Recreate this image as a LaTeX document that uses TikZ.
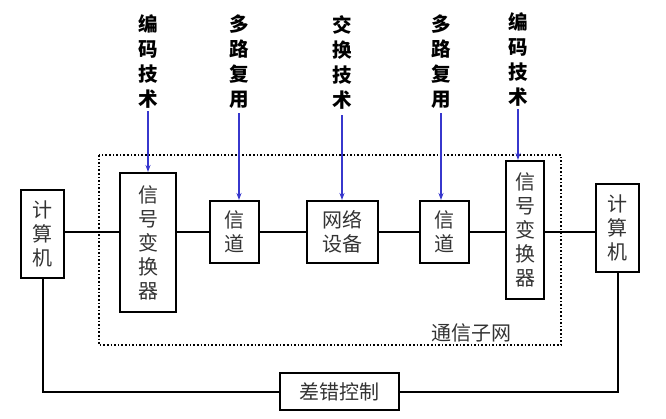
\documentclass[tikz,border=0pt]{standalone}
\usepackage{fontspec}
\setmainfont{Noto Sans CJK SC}
\usetikzlibrary{arrows.meta}
\definecolor{arrowblue}{RGB}{55,55,205}
\tikzset{
  box/.style={draw=black, line width=2pt, inner sep=0pt, align=center,
    font=\fontsize{20}{24}\selectfont, text=black!80},
  toplabel/.style={align=center, inner sep=0pt, font=\fontsize{19.5}{25}\selectfont\bfseries},
  conn/.style={line width=2pt},
  tech/.style={draw=arrowblue, line width=1.5pt, -{Stealth[length=7pt,width=5pt]}},
}
\begin{document}
\begin{tikzpicture}[x=1pt,y=-1pt]
\useasboundingbox (0,0) rectangle (666,419);
\draw[line width=1.6pt, dotted] (99,155) rectangle (561,345);
\node[box, minimum width=43pt, minimum height=88pt] (lc) at (42.5,234) {计\\算\\机};
\node[box, minimum width=56pt, minimum height=139pt] (lconv) at (148,242.5) {信\\号\\变\\换\\器};
\node[box, minimum width=49pt, minimum height=62pt] (ch1) at (234.5,232) {信\\道};
\node[box, minimum width=71pt, minimum height=62pt] (net) at (342.5,232) {网络\\设备};
\node[box, minimum width=49pt, minimum height=62pt] (ch2) at (444.5,232) {信\\道};
\node[box, minimum width=38pt, minimum height=138pt] (rconv) at (525,230) {信\\号\\变\\换\\器};
\node[box, minimum width=43pt, minimum height=88pt] (rc) at (617.5,228) {计\\算\\机};
\node[box, minimum width=119pt, minimum height=37pt] (err) at (339.5,391.5) {差错控制};
\node[inner sep=0pt, font=\fontsize{20}{24}\selectfont, text=black!80] (sub) at (471,333) {通信子网};
% top labels
\node[toplabel] (t1) at (148,62) {编\\码\\技\\术};
\node[toplabel] (t2) at (239,62) {多\\路\\复\\用};
\node[toplabel] (t3) at (342,62) {交\\换\\技\\术};
\node[toplabel] (t4) at (441,62) {多\\路\\复\\用};
\node[toplabel] (t5) at (518,60) {编\\码\\技\\术};
% connectors
\draw[conn] (ch1.west -| lc.east) -- (ch1.west -| lconv.west);
\draw[conn] (ch1.west -| lconv.east) -- (ch1.west);
\draw[conn] (ch1.east) -- (net.west);
\draw[conn] (net.east) -- (ch2.west);
\draw[conn] (ch2.east) -- (ch2.east -| rconv.west);
\draw[conn] (ch2.east -| rconv.east) -- (ch2.east -| rc.west);
\draw[conn] (lc.south) |- (err.west);
\draw[conn] (err.east) -| (rc.south);
% blue arrows
\draw[tech] ([yshift=-2pt]t1.south) -- (t1.south |- lconv.north);
\draw[tech] ([yshift=-4pt]t2.south) -- (t2.south |- ch1.north);
\draw[tech] ([yshift=-6pt]t3.south) -- (t3.south |- net.north);
\draw[tech] ([yshift=-4pt]t4.south) -- (t4.south |- ch2.north);
\draw[tech] ([yshift=-2pt]t5.south) -- (t5.south |- rconv.north);
\end{tikzpicture}
\end{document}
